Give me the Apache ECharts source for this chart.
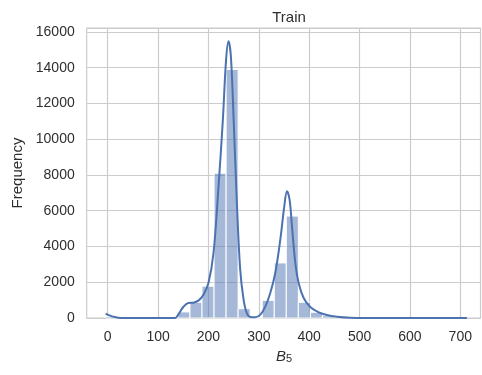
<!DOCTYPE html>
<html>
<head>
<meta charset="utf-8">
<script src="https://cdn.jsdelivr.net/npm/echarts@6/dist/echarts.min.js"></script>
<style>
html,body{margin:0;padding:0;background:#fff;}
#chart{width:482px;height:375px;}
</style>
</head>
<body>
<div id="chart"></div>
<script>
// Histogram bin edges (B5 values) and counts
const binEdges = [-4, 19.9, 43.8, 67.7, 91.6, 115.5, 139.4, 163.3, 187.2, 211.1, 235, 258.9, 282.8, 306.7, 330.6, 354.5, 378.4, 402.3, 426.2, 450.1, 474, 497.9, 521.8, 545.7, 569.6, 593.5, 617.4, 641.3, 665.2, 689.1, 713];
const binCounts = [80, 0, 0, 0, 0, 0, 340, 880, 1780, 8100, 13900, 520, 0, 990, 3080, 5700, 880, 320, 130, 50, 25, 15, 10, 6, 5, 4, 3, 3, 2, 2];
// KDE curve (scaled to counts)
const kdeX = [-4, 4.6, 14, 25, 60, 100, 134, 140, 150, 160, 170, 180, 190, 200, 210, 220, 228.6, 235, 239.8, 244.5, 250, 256.4, 263, 269.7, 276, 283, 293, 303, 313, 322.7, 332.6, 342.6, 350.5, 355.8, 361, 365.8, 372.4, 379, 389, 402, 419, 435, 455, 481.6, 520, 600, 713];
const kdeY = [242, 130, 56, 5, 0, 0, 5, 186, 615, 840, 858, 970, 1305, 1958, 3637, 7367, 11097, 14454, 15480, 14640, 11097, 6434, 2704, 1026, 280, 56, 37, 186, 653, 1399, 2518, 4383, 6248, 7087, 6620, 5129, 3077, 1958, 1119, 615, 317, 168, 75, 19, 5, 1, 0];
const xTicks = [0, 100, 200, 300, 400, 500, 600, 700];
const yTicks = [0, 2000, 4000, 6000, 8000, 10000, 12000, 14000, 16000];

const textColor = '#2e2e2e';
const gridColor = '#cccccc';
const blue = '#4c72b0';
const font = 'Liberation Sans, Arial, sans-serif';

const histData = binCounts.map((c, i) => [binEdges[i], binEdges[i + 1], c]);
const kdeData = kdeX.map((x, i) => [x, kdeY[i]]);

const chart = echarts.init(document.getElementById('chart'), null, {renderer: 'canvas'});
chart.setOption({
  backgroundColor: '#ffffff',
  animation: false,
  title: {
    text: 'Train', left: 284, top: 5, textAlign: 'center',
    textStyle: {fontFamily: font, fontSize: 15, fontWeight: 'normal', color: textColor}
  },
  grid: [
    {left: 86.7, top: 28, width: 393.8, height: 290, show: true, borderColor: gridColor, borderWidth: 1.2, backgroundColor: 'transparent'},
    {left: 107.7, top: 28, width: 352.6, height: 290, show: false}
  ],
  xAxis: [
    {type: 'value', gridIndex: 0, min: -41.7, max: 740, show: false},
    {type: 'value', gridIndex: 1, min: xTicks[0], max: xTicks[xTicks.length - 1], interval: 100,
     axisLine: {show: false}, axisTick: {show: false},
     splitLine: {show: true, lineStyle: {color: gridColor, width: 1.2}},
     axisLabel: {fontFamily: font, fontSize: 14, color: textColor, margin: 12},
     name: '{i|B}{s|5}', nameLocation: 'middle', nameGap: 20,
     nameTextStyle: {rich: {
       i: {fontFamily: font, fontSize: 15, fontStyle: 'italic', color: textColor},
       s: {fontFamily: font, fontSize: 11, color: textColor, verticalAlign: 'bottom', padding: [6, 0, 0, 0]}
     }}
    }
  ],
  yAxis: [
    {type: 'value', gridIndex: 0, min: 0, max: 16220, interval: 2000,
     axisLine: {show: false}, axisTick: {show: false},
     splitLine: {show: true, lineStyle: {color: gridColor, width: 1.2}},
     axisLabel: {fontFamily: font, fontSize: 14, color: textColor, margin: 12,
       formatter: v => (yTicks.indexOf(v) >= 0 ? String(v) : '')},
     name: 'Frequency', nameLocation: 'middle', nameGap: 61,
     nameTextStyle: {fontFamily: font, fontSize: 15, color: textColor}
    },
    {type: 'value', gridIndex: 1, min: 0, max: 16220, show: false}
  ],
  series: [
    {
      type: 'custom', xAxisIndex: 0, yAxisIndex: 0, data: histData,
      renderItem: function (params, api) {
        const p0 = api.coord([api.value(0), 0]);
        const p1 = api.coord([api.value(1), api.value(2)]);
        return {
          type: 'rect',
          shape: {x: p0[0], y: p1[1], width: p1[0] - p0[0], height: p0[1] - p1[1]},
          style: {fill: 'rgba(76,114,176,0.5)', stroke: '#ffffff', lineWidth: 1}
        };
      },
      z: 2
    },
    {
      type: 'line', xAxisIndex: 0, yAxisIndex: 0, data: kdeData,
      smooth: 0.35, showSymbol: false, symbol: 'none',
      lineStyle: {color: blue, width: 2}, z: 3
    }
  ]
});
</script>
</body>
</html>
